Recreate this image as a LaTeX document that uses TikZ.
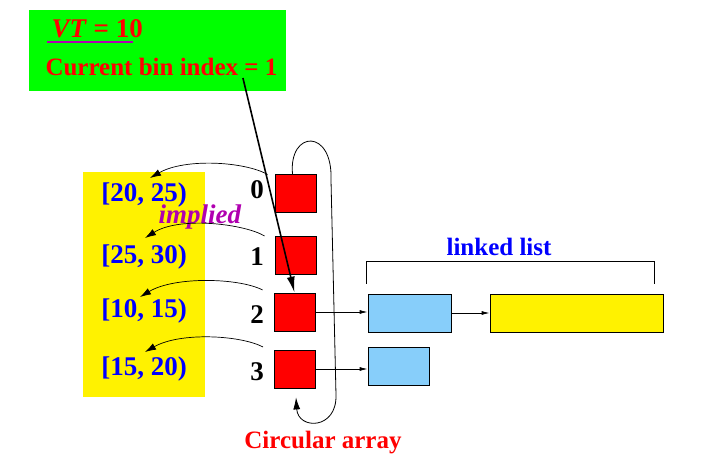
\documentclass[tikz,border=0pt]{standalone}
\usepackage{fontspec}
\setmainfont{Liberation Serif}
\usetikzlibrary{arrows.meta,calc}
\definecolor{lime}{HTML}{00FF00}
\definecolor{skyblue}{HTML}{87CEFA}
\definecolor{plum}{HTML}{B000B0}

\begin{document}
\begin{tikzpicture}[x=1pt,y=-1pt,
    every node/.style={font=\bfseries},
    slot/.style={draw=black,line width=0.8pt,fill=red,minimum width=41pt,minimum height=38pt,inner sep=0pt},
    cell/.style={draw=black,line width=0.8pt,minimum height=38pt,inner sep=0pt},
    bigtext/.style={font=\fontsize{27}{30}\selectfont\bfseries},
    midtext/.style={font=\fontsize{25}{28}\selectfont\bfseries},
    binrange/.style={bigtext,text=blue,anchor=base},
    idx/.style={bigtext,anchor=base},
    bendarrow/.style={line width=0.7pt,-{Latex[length=11pt,width=7pt]}},
    nextarrow/.style={line width=0.8pt,-{Latex[length=8pt,width=4pt]}}]
    \useasboundingbox (0,0) rectangle (707,463);

    % status panel
    \node[fill=lime,minimum width=257pt,minimum height=81pt,inner sep=0pt] (panel) at (157.5,50.5) {};
    \node[bigtext,text=red,anchor=base west] (vt) at (48,37) {\textit{VT} = 10};
    \draw[plum,line width=2.5pt] ($(vt.base west)+(-1,5)$) -- ++(86,0);
    \node[midtext,text=red,anchor=base west] (cur) at (42,75) {Current bin index = 1};

    % bin ranges
    \node[fill=yellow,minimum width=122pt,minimum height=225pt,inner sep=0pt] (ranges) at (144,284.5) {};
    \node[binrange] (r0) at (144,201) {[20, 25)};
    \node[binrange] (r1) at (144,263) {[25, 30)};
    \node[binrange] (r2) at (144,317) {[10, 15)};
    \node[binrange] (r3) at (144,375) {[15, 20)};
    \node[text=plum,font=\fontsize{27}{30}\selectfont\bfseries\itshape,anchor=base west] (impl) at (155,223) {implied};

    % circular array
    \node[slot] (b0) at (295.5,193.5) {};
    \node[slot] (b1) at (295.5,255) {};
    \node[slot] (b2) at (294.5,312) {};
    \node[slot] (b3) at (295,369) {};
    \node[idx] (i0) at (257,198) {0};
    \node[idx] (i1) at (257,265) {1};
    \node[idx] (i2) at (257,323) {2};
    \node[idx] (i3) at (257,380) {3};
    \node[midtext,text=red,anchor=base] (circ) at (323,448) {Circular array};

    % linked list
    \node[cell,fill=skyblue,minimum width=83pt] (c0) at (409.5,313) {};
    \node[cell,fill=skyblue,minimum width=61pt] (c1) at (398.5,366) {};
    \node[cell,fill=yellow,minimum width=173pt] (c2) at (576.5,313) {};
    \node[midtext,text=blue,anchor=base] (ll) at (499,255) {linked list};
    \draw[line width=0.8pt] ($(c0.north west)+(-1,-10)$) -- ++(0,-22) -| ($(c2.north east)+(-9,-10)$);

    \draw[nextarrow] (b2.east) -- (b2.east -| c0.west);
    \draw[nextarrow] (b3.east) -- (b3.east -| c1.west);
    \draw[nextarrow] (c0.east) -- (c2.west);

    % slot to range
    \draw[bendarrow] ($(b0.west)+(-7,-19)$) .. controls +(-23,-13) and +(35,-20) .. ($(r0.base)+(6,-23)$);
    \draw[bendarrow] ($(b1.west)+(-10,-19)$) .. controls +(-20,-12) and +(35,-22) .. ($(r1.base)+(1,-25)$);
    \draw[bendarrow] ($(b2.west)+(-11,-22)$) .. controls +(-23,-12) and +(35,-21) .. ($(r2.base)+(-4,-20)$);
    \draw[bendarrow] ($(b3.west)+(-11,-22)$) .. controls +(-23,-12) and +(35,-20) .. ($(r3.base)+(1,-23)$);

    % wrap around
    \draw[line width=0.8pt,-{Latex[length=12pt,width=7pt]}] ($(b0.north)+(-3,0)$) .. controls +(-4,-44) and (333,128) .. (331,180)
        -- (336,395) .. controls (337,430) and (298,430) .. ($(b3.south)+(1,9)$);

    % current bin
    \draw[line width=1.6pt,-{Latex[length=16pt,width=8pt]}] ($(cur.base east)+(-38,3)$) -- (b2.north);
\end{tikzpicture}
\end{document}
